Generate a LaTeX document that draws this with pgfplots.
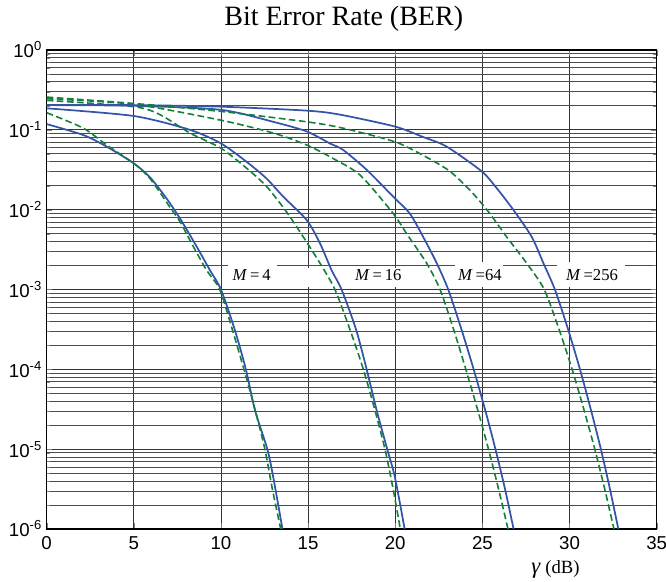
\documentclass[border=0pt]{standalone}
\usepackage{fontspec}
\setmainfont{Liberation Serif}
\setsansfont{Liberation Sans}
\usepackage{pgfplots}
\pgfplotsset{compat=1.18}
\definecolor{berblue}{RGB}{52,84,168}
\definecolor{bergreen}{RGB}{18,128,58}
\tikzset{
  sim/.style  = {berblue, line width=1.3pt, smooth, tension=0.45},
  thy/.style  = {bergreen, line width=1.2pt, dash pattern=on 5pt off 2.6pt, smooth, tension=0.45},
  mlab/.style = {font=\fontsize{12.5}{14}\selectfont, inner sep=0pt},
}
\begin{document}
\begin{tikzpicture}
\begin{axis}[
    at={(0,0)}, anchor=south west,
    scale only axis,
    width=457.5pt, height=359.25pt,
    xmin=0, xmax=35, ymin=1e-6, ymax=1,
    ymode=log,
    xtick={0,5,10,15,20,25,30,35},
    xticklabels={0,5,10,15,20,25,30,35},
    ytick={1e-6,1e-5,1e-4,1e-3,1e-2,1e-1,1},
    yticklabels={10\textsuperscript{-6},10\textsuperscript{-5},10\textsuperscript{-4},10\textsuperscript{-3},10\textsuperscript{-2},10\textsuperscript{-1},10\textsuperscript{0}},
    ticklabel style={font=\sffamily\fontsize{14}{16}\selectfont},
    xticklabel style={yshift=-2pt},
    grid=both,
    major grid style={black!80, line width=0.65pt},
    minor grid style={black!70, line width=0.55pt},
    axis line style={black, line width=0.8pt},
    title={Bit Error Rate (BER)},
    title style={font=\fontsize{21}{24}\selectfont, at={(0.487,1)}, anchor=base, yshift=12.5pt},
    xlabel={{\fontsize{17}{18}\selectfont\textit{γ}} (dB)},
    xlabel style={font=\fontsize{14}{16}\selectfont, at={(rel axis cs:0.834,0)}, anchor=north, yshift=-20pt},
]
% white patches behind the M labels
\fill[white] (axis cs:10.40,2.21e-3) rectangle (axis cs:13.21,1.07e-3);
\fill[white] (axis cs:14.70,1.86e-3) rectangle (axis cs:20.56,1.07e-3);
\fill[white] (axis cs:23.43,2.21e-3) rectangle (axis cs:26.18,1.07e-3);
\fill[white] (axis cs:29.28,2.21e-3) rectangle (axis cs:33.18,1.07e-3);

% M = 4
\addplot[sim] coordinates {
 (0,0.118) (2.1,0.0861) (3.44,0.0617) (5.0,0.038) (5.93,0.0254) (6.88,0.0138)
 (7.65,0.00776) (8.6,0.00347) (9.37,0.00174) (10.0,1.0e-3) (10.8,3.09e-4)
 (11.43,1.0e-4) (11.95,3.09e-5) (12.66,1.0e-5) (13.0,4.47e-6) (13.53,1.0e-6)
};
\addplot[thy] coordinates {
 (0,0.164) (2.1,0.105) (3.44,0.0646) (5.0,0.038) (5.93,0.0245) (7.17,0.01)
 (7.65,0.00708) (8.41,0.00347) (9.18,0.00174) (9.93,1.0e-3) (10.65,3.16e-4)
 (11.32,1.0e-4) (11.95,3.16e-5) (12.52,1.0e-5) (12.95,3.16e-6) (13.43,1.0e-6)
};
% M = 16
\addplot[sim] coordinates {
 (0,0.186) (5,0.149) (8.22,0.1) (10,0.0676) (11.47,0.0398) (12.62,0.0245)
 (13.58,0.0145) (14.92,0.00741) (15.68,0.0038) (16.35,0.00174) (16.92,1.0e-3)
 (17.75,3.16e-4) (18.36,1.0e-4) (18.93,3.09e-5) (19.54,1.0e-5) (19.98,4.47e-6) (20.54,1.0e-6)
};
\addplot[thy] coordinates {
 (0,0.234) (5,0.195) (6.5,0.155) (8.22,0.0912) (10,0.0589) (11.47,0.0331)
 (12.62,0.0195) (13.77,0.00933) (14.72,0.00457) (15.68,0.00214) (16.54,1.0e-3)
 (17.4,3.16e-4) (18.17,1.0e-4) (18.82,3.16e-5) (19.41,1.0e-5) (19.88,3.16e-6) (20.29,1.0e-6)
};
% M = 64
\addplot[sim] coordinates {
 (0,0.204) (5,0.2) (10,0.178) (13.0,0.126) (14.92,0.0955) (16.25,0.0676)
 (17.0,0.0562) (18.36,0.0316) (19.89,0.0145) (20.84,0.00891) (21.6,0.00457)
 (22.38,0.00214) (23.04,1.0e-3) (23.8,3.16e-4) (24.5,1.0e-4) (25.15,3.16e-5)
 (25.75,1.0e-5) (26.3,3.16e-6) (26.79,1.0e-6)
};
\addplot[thy] coordinates {
 (0,0.245) (5,0.209) (10,0.132) (13.0,0.0912) (14.92,0.0646) (16.44,0.0437)
 (18.0,0.0269) (19.89,0.00891) (20.65,0.00501) (21.8,0.00214) (22.57,1.0e-3)
 (23.35,3.16e-4) (24.05,1.0e-4) (24.72,3.16e-5) (25.35,1.0e-5) (25.93,3.16e-6) (26.47,1.0e-6)
};
% M = 256
\addplot[sim] coordinates {
 (0,0.204) (5,0.204) (10,0.195) (14.92,0.174) (16.83,0.155) (19.98,0.11)
 (21.6,0.0813) (22.95,0.0617) (24.96,0.0302) (25.82,0.0186) (26.77,0.01)
 (27.83,0.00457) (28.5,0.00214) (29.16,1.0e-3) (29.92,3.16e-4) (30.6,1.0e-4)
 (31.22,3.16e-5) (31.8,1.0e-5) (32.32,3.16e-6) (32.8,1.0e-6)
};
\addplot[thy] coordinates {
 (0,0.257) (5,0.214) (10,0.17) (14.92,0.126) (17.0,0.105) (19.98,0.0708)
 (21.6,0.0479) (23.14,0.0302) (24.48,0.0158) (25.43,0.00891) (26.39,0.00457)
 (27.54,0.00214) (28.55,1.0e-3) (29.4,3.16e-4) (30.15,1.0e-4) (30.82,3.16e-5)
 (31.45,1.0e-5) (32.02,3.16e-6) (32.55,1.0e-6)
};

\node[mlab] at (axis cs:11.76,1.52e-3) {\textit{M}\thinspace=\thinspace 4};
\node[mlab] at (axis cs:19.03,1.52e-3) {\textit{M}\thinspace=\thinspace 16};
\node[mlab] at (axis cs:24.86,1.52e-3) {\textit{M}\thinspace=64};
\node[mlab] at (axis cs:31.29,1.52e-3) {\textit{M}\thinspace=256};
\end{axis}
\pgfresetboundingbox
\path (-35pt,-39pt) rectangle (464.5pt,396.75pt);
\end{tikzpicture}
\end{document}
